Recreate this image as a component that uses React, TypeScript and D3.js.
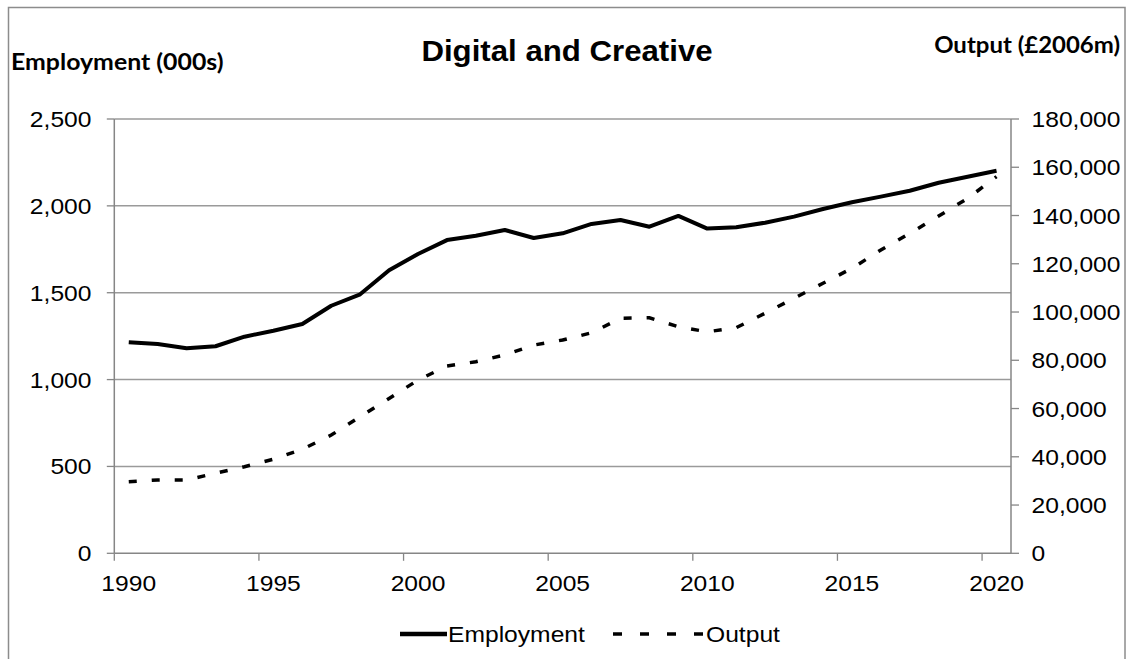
import React from "react";
import * as d3 from "d3";

const years: number[] = [
  1990, 1991, 1992, 1993, 1994, 1995, 1996, 1997, 1998, 1999, 2000, 2001, 2002, 2003, 2004, 2005,
  2006, 2007, 2008, 2009, 2010, 2011, 2012, 2013, 2014, 2015, 2016, 2017, 2018, 2019, 2020,
];
const employment: number[] = [
  1215, 1205, 1180, 1192, 1247, 1281, 1320, 1425, 1491, 1629, 1723, 1803, 1828, 1861, 1815, 1842,
  1896, 1919, 1880, 1942, 1869, 1877, 1903, 1938, 1982, 2021, 2053, 2087, 2133, 2168, 2202,
];
const output: number[] = [
  29700, 30400, 30400, 33200, 35900, 39000, 43100, 49000, 56600, 64200, 71800, 77600, 79400, 82200,
  86300, 88400, 91400, 97400, 97600, 93900, 91800, 93500, 99500, 105700, 111900, 118100, 125700,
  132600, 139800, 147100, 156100,
];
const leftTicks: number[] = [0, 500, 1000, 1500, 2000, 2500];
const rightTicks: number[] = [0, 20000, 40000, 60000, 80000, 100000, 120000, 140000, 160000, 180000];
const xLabelYears: number[] = [1990, 1995, 2000, 2005, 2010, 2015, 2020];

const title = "Digital and Creative";
const leftTitle = "Employment (000s)";
const rightTitle = "Output (£2006m)";
const seriesNames = ["Employment", "Output"];

const W = 1128;
const H = 659;
const plot = { left: 114.3, right: 1011, top: 119, bottom: 553.3 };
const SX = 1.12;
const fontA = "'Liberation Sans', Arial, sans-serif";
const fontB = "Lato, 'Open Sans', sans-serif";

function SText(props: {
  x: number;
  y: number;
  anchor?: string;
  size: number;
  weight?: string | number;
  family?: string;
  sx?: number;
  children: React.ReactNode;
}) {
  const { x, y, anchor = "start", size, weight = "normal", family = fontA, sx = SX, children } = props;
  return (
    <text
      transform={`translate(${x},${y}) scale(${sx},1)`}
      textAnchor={anchor}
      fontSize={size}
      fontWeight={weight}
      fontFamily={family}
      fill="#000"
    >
      {children}
    </text>
  );
}

export default function App() {
  const x = d3.scaleBand<number>().domain(years).range([plot.left, plot.right]).padding(0);
  const bw = x.bandwidth();
  const cx = (yr: number) => (x(yr) as number) + bw / 2;
  const yL = d3.scaleLinear().domain([0, 2500]).range([plot.bottom, plot.top]);
  const yR = d3.scaleLinear().domain([0, 180000]).range([plot.bottom, plot.top]);
  const fmt = d3.format(",");

  const empLine = d3
    .line<number>()
    .x((_, i) => cx(years[i]))
    .y((d) => yL(d))(employment) as string;
  const outLine = d3
    .line<number>()
    .x((_, i) => cx(years[i]))
    .y((d) => yR(d))(output) as string;

  const axisColor = "#868686";
  const gridColor = "#9a9a9a";
  const xTickPos = xLabelYears.map((yr) => x(yr) as number);

  return (
    <div style={{ position: "fixed", left: 0, top: 0, width: W, height: H, background: "#fff" }}>
      <svg width={W} height={H} style={{ display: "block" }}>
        <rect x={0} y={0} width={W} height={H} fill="#fff" />
        <rect x={8.5} y={7.5} width={1116.5} height={680} fill="none" stroke="#8c8c8c" strokeWidth={1.5} />

        {/* gridlines */}
        {leftTicks.slice(1).map((t) => (
          <line key={"g" + t} x1={plot.left} x2={plot.right} y1={yL(t)} y2={yL(t)} stroke={gridColor} strokeWidth={1.5} />
        ))}

        {/* left axis */}
        <line x1={plot.left} x2={plot.left} y1={plot.top} y2={plot.bottom} stroke={axisColor} strokeWidth={1.5} />
        {leftTicks.map((t) => (
          <g key={"l" + t}>
            <line x1={plot.left - 7.5} x2={plot.left} y1={yL(t)} y2={yL(t)} stroke={axisColor} strokeWidth={1.3} />
            <SText x={91.5} y={yL(t) + 8} anchor="end" size={22}>
              {fmt(t)}
            </SText>
          </g>
        ))}

        {/* right axis */}
        <line x1={plot.right} x2={plot.right} y1={plot.top} y2={plot.bottom} stroke={axisColor} strokeWidth={1.5} />
        {rightTicks.map((t) => (
          <g key={"r" + t}>
            <line x1={plot.right} x2={plot.right + 8} y1={yR(t)} y2={yR(t)} stroke={axisColor} strokeWidth={1.3} />
            <SText x={1031.5} y={yR(t) + 8} anchor="start" size={22}>
              {fmt(t)}
            </SText>
          </g>
        ))}

        {/* x axis */}
        <line x1={plot.left} x2={plot.right} y1={plot.bottom} y2={plot.bottom} stroke={axisColor} strokeWidth={1.5} />
        {xTickPos.map((p, i) => (
          <line key={"xt" + i} x1={p} x2={p} y1={plot.bottom} y2={plot.bottom + 7.5} stroke={axisColor} strokeWidth={1.3} />
        ))}
        {xLabelYears.map((yr) => (
          <SText key={"xl" + yr} x={cx(yr)} y={591} anchor="middle" size={22}>
            {String(yr)}
          </SText>
        ))}

        {/* series */}
        <path d={outLine} fill="none" stroke="#000" strokeWidth={3.5} strokeDasharray="8 15" />
        <path d={empLine} fill="none" stroke="#000" strokeWidth={4} strokeLinejoin="round" />

        {/* titles */}
        <SText x={567} y={61} anchor="middle" size={30} weight="bold" sx={1.04}>
          {title}
        </SText>
        <SText x={11} y={70} anchor="start" size={22} weight="bold" family={fontB} sx={1.13}>
          {leftTitle}
        </SText>
        <SText x={1120} y={53} anchor="end" size={22} weight="bold" family={fontB} sx={1.09}>
          {rightTitle}
        </SText>

        {/* legend */}
        <line x1={400} x2={447} y1={634} y2={634} stroke="#000" strokeWidth={4.5} />
        <SText x={448} y={642} anchor="start" size={22}>
          {seriesNames[0]}
        </SText>
        <line x1={613} x2={705} y1={634} y2={634} stroke="#000" strokeWidth={3.5} strokeDasharray="9 18" />
        <SText x={706} y={642} anchor="start" size={22}>
          {seriesNames[1]}
        </SText>
      </svg>
    </div>
  );
}
